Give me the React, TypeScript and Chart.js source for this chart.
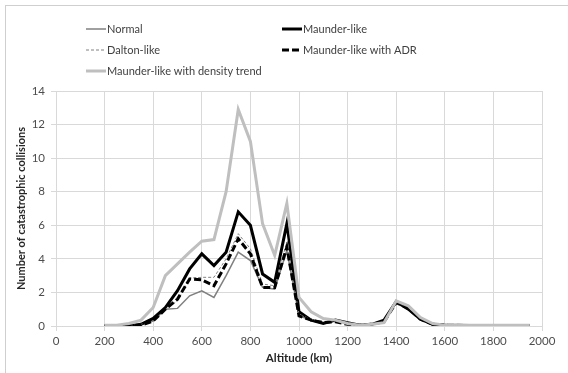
import React, { useEffect, useRef } from "react";
import { Chart, registerables } from "chart.js";

Chart.register(...registerables);

const altitudes = [200, 250, 300, 350, 400, 450, 500, 550, 600, 650, 700, 750, 800, 850, 900, 950, 1000, 1050, 1100, 1150, 1200, 1250, 1300, 1350, 1400, 1450, 1500, 1550, 1600, 1650, 1700, 1750, 1800, 1850, 1900, 1950];

const normal = [0.05, 0.02, 0.05, 0.1, 0.3, 1.0, 1.05, 1.8, 2.1, 1.7, 3.0, 4.4, 3.9, 2.3, 2.2, 4.5, 0.6, 0.35, 0.2, 0.3, 0.15, 0.05, 0.1, 0.25, 1.45, 1.1, 0.45, 0.15, 0.05, 0.05, 0.03, 0.03, 0.03, 0.02, 0.02, 0.02];
const maunder = [0.0, 0.0, 0.0, 0.1, 0.45, 1.1, 2.1, 3.4, 4.3, 3.6, 4.4, 6.8, 6.0, 3.1, 2.6, 6.1, 0.85, 0.35, 0.15, 0.35, 0.2, 0.05, 0.1, 0.35, 1.45, 1.0, 0.4, 0.1, 0.05, 0.0, 0.02, 0.02, 0.02, 0.02, 0.02, 0.02];
const dalton = [0.02, 0.02, 0.05, 0.1, 0.3, 1.0, 1.5, 2.85, 2.9, 2.9, 4.0, 5.5, 4.6, 2.5, 2.4, 5.0, 0.7, 0.4, 0.25, 0.3, 0.1, 0.05, 0.1, 0.25, 1.45, 1.1, 0.45, 0.15, 0.05, 0.05, 0.03, 0.03, 0.03, 0.03, 0.03, 0.03];
const maunderADR = [0.0, 0.0, 0.0, 0.05, 0.3, 1.0, 1.6, 2.8, 2.75, 2.4, 3.7, 5.2, 4.3, 2.3, 2.3, 4.7, 0.6, 0.35, 0.2, 0.25, 0.1, 0.05, 0.1, 0.25, 1.4, 1.05, 0.4, 0.1, 0.05, 0.05, 0.02, 0.02, 0.02, 0.02, 0.02, 0.02];
const maunderDensity = [0.05, 0.05, 0.15, 0.35, 1.1, 3.0, 3.7, 4.4, 5.05, 5.15, 8.0, 12.9, 11.0, 6.1, 4.2, 7.3, 1.7, 0.85, 0.45, 0.35, 0.15, 0.05, 0.1, 0.2, 1.5, 1.2, 0.5, 0.15, 0.05, 0.08, 0.05, 0.05, 0.05, 0.05, 0.05, 0.05];

const xTicks = [0, 200, 400, 600, 800, 1000, 1200, 1400, 1600, 1800, 2000];
const yTicks = [0, 2, 4, 6, 8, 10, 12, 14];

const seriesNames = ["Normal", "Maunder-like", "Dalton-like", "Maunder-like with ADR", "Maunder-like with density trend"];

const FONT = "Lato, 'Open Sans', sans-serif";

const styles = [
  { color: "#808080", width: 1.5, dash: [] as number[], order: 5 },
  { color: "#000000", width: 3, dash: [] as number[], order: 4 },
  { color: "#808080", width: 1, dash: [3, 2], order: 3 },
  { color: "#000000", width: 3, dash: [7, 3], order: 2 },
  { color: "#bfbfbf", width: 3, dash: [] as number[], order: 1 },
];

const legendPos = [
  { x: 86, y: 29 },
  { x: 282, y: 29 },
  { x: 86, y: 50 },
  { x: 282, y: 50 },
  { x: 86, y: 71 },
];

const legendPlugin = {
  id: "customLegend",
  afterDraw(chart: any) {
    const ctx = chart.ctx;
    ctx.save();
    seriesNames.forEach((name, i) => {
      const s = styles[i];
      const p = legendPos[i];
      ctx.beginPath();
      ctx.strokeStyle = s.color;
      ctx.lineWidth = s.width;
      ctx.setLineDash(s.dash);
      ctx.moveTo(p.x, p.y);
      ctx.lineTo(p.x + 20, p.y);
      ctx.stroke();
      ctx.setLineDash([]);
      ctx.fillStyle = "#404040";
      ctx.font = `11px ${FONT}`;
      ctx.textBaseline = "middle";
      ctx.textAlign = "left";
      ctx.fillText(name, p.x + 21, p.y);
    });
    ctx.restore();
  },
};

const seriesData = [normal, maunder, dalton, maunderADR, maunderDensity];

export default function App() {
  const ref = useRef<HTMLCanvasElement>(null);
  useEffect(() => {
    const canvas = ref.current!;
    const chart = new Chart(canvas, {
      type: "line",
      data: {
        datasets: seriesData.map((vals, i) => ({
          label: seriesNames[i],
          data: altitudes.map((a, j) => ({ x: a, y: vals[j] })),
          borderColor: styles[i].color,
          borderWidth: styles[i].width,
          borderDash: styles[i].dash,
          pointRadius: 0,
          tension: 0,
          fill: false,
          order: styles[i].order,
        })),
      },
      options: {
        animation: false,
        responsive: false,
        layout: { padding: { top: 91, left: 0, right: 26, bottom: 0 } },
        plugins: { legend: { display: false }, tooltip: { enabled: false } },
        scales: {
          x: {
            type: "linear",
            min: 0,
            max: 2000,
            afterBuildTicks: (s: any) => {
              s.ticks = xTicks.map((v) => ({ value: v }));
            },
            afterFit: (s: any) => {
              s.height = 47;
            },
            grid: { color: "#d9d9d9", tickLength: 5, lineWidth: 1 },
            border: { color: "#d9d9d9" },
            ticks: {
              color: "#4d4d4d",
              font: { family: FONT, size: 11.5 },
              padding: 3,
              maxRotation: 0,
              callback: (v: any) => String(v),
            },
            title: {
              display: true,
              text: "Altitude (km)",
              color: "#262626",
              font: { family: FONT, size: 11.5, weight: "bold" },
              padding: { top: 0, bottom: 8 },
            },
          },
          y: {
            type: "linear",
            min: 0,
            max: 14,
            afterBuildTicks: (s: any) => {
              s.ticks = yTicks.map((v) => ({ value: v }));
            },
            afterFit: (s: any) => {
              s.width = 56;
            },
            grid: { color: "#d9d9d9", tickLength: 5, lineWidth: 1 },
            border: { color: "#d9d9d9" },
            ticks: {
              color: "#4d4d4d",
              font: { family: FONT, size: 11.5 },
              padding: 6,
              callback: (v: any) => String(v),
            },
            title: {
              display: true,
              text: "Number of catastrophic collisions",
              color: "#262626",
              font: { family: FONT, size: 11, weight: "bold" },
              padding: { top: 15, bottom: 0 },
            },
          },
        },
      },
      plugins: [legendPlugin],
    } as any);
    return () => chart.destroy();
  }, []);
  return (
    <div style={{ position: "fixed", left: 0, top: 0, width: 568, height: 373, background: "#fff", overflow: "hidden" }}>
      <div style={{ position: "absolute", left: 5, top: 5, width: 600, height: 400, borderLeft: "1px solid #cfcfcf", borderTop: "1px solid #cfcfcf" }} />
      <canvas ref={ref} width={568} height={373} style={{ position: "absolute", left: 0, top: 0 }} />
    </div>
  );
}
